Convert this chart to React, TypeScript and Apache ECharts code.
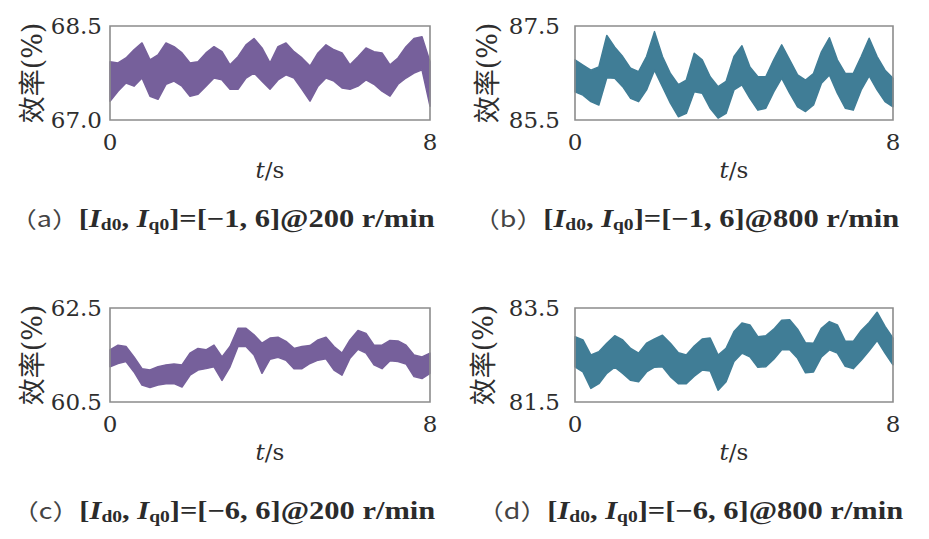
import React, { useEffect, useRef } from "react";
import * as echarts from "echarts";

// time samples (s)
const T = [0, 0.2, 0.4, 0.6, 0.8, 1.0, 1.2, 1.4, 1.6, 1.8, 2.0, 2.2, 2.4, 2.6, 2.8, 3.0, 3.2, 3.4, 3.6, 3.8, 4.0,
  4.2, 4.4, 4.6, 4.8, 5.0, 5.2, 5.4, 5.6, 5.8, 6.0, 6.2, 6.4, 6.6, 6.8, 7.0, 7.2, 7.4, 7.6, 7.8, 8.0];

// (a) [-1, 6] @ 200 r/min : upper / lower envelope of efficiency (%)
const aUpper = [67.93, 67.91, 67.99, 68.12, 68.23, 67.96, 68.04, 68.23, 68.17, 68.07, 67.91, 67.93, 68.07, 68.17, 68.09, 67.88, 68.01, 68.20, 68.30, 68.15, 67.91,
  68.17, 68.23, 68.09, 67.99, 67.86, 68.07, 68.20, 68.12, 68.07, 67.88, 68.01, 68.15, 68.09, 68.07, 67.88, 67.99, 68.17, 68.30, 68.33, 67.93];
const aLower = [67.30, 67.46, 67.59, 67.54, 67.67, 67.38, 67.33, 67.57, 67.62, 67.54, 67.38, 67.41, 67.54, 67.67, 67.64, 67.49, 67.49, 67.67, 67.75, 67.62, 67.49,
  67.64, 67.72, 67.67, 67.49, 67.30, 67.54, 67.67, 67.62, 67.51, 67.49, 67.54, 67.64, 67.57, 67.46, 67.38, 67.57, 67.67, 67.75, 67.80, 67.22];

// (b) [-1, 6] @ 800 r/min
const bUpper = [86.78, 86.67, 86.56, 86.63, 87.30, 87.05, 86.85, 86.60, 86.53, 86.85, 87.38, 86.85, 86.49, 86.25, 86.35, 86.92, 86.78, 86.42, 86.21, 86.32, 86.85,
  87.08, 86.63, 86.42, 86.42, 86.78, 87.10, 86.78, 86.46, 86.35, 86.49, 86.95, 87.25, 86.78, 86.49, 86.49, 86.85, 87.24, 86.85, 86.56, 86.39];
const bLower = [86.10, 86.03, 85.89, 85.82, 86.40, 86.39, 86.21, 85.96, 85.89, 86.14, 86.56, 86.21, 85.86, 85.57, 85.64, 86.10, 86.07, 85.75, 85.54, 85.64, 86.14,
  86.25, 85.96, 85.71, 85.75, 86.10, 86.39, 86.07, 85.78, 85.68, 85.82, 86.28, 86.46, 86.07, 85.75, 85.71, 86.14, 86.44, 86.14, 85.89, 85.78];

// (c) [-6, 6] @ 200 r/min
const cUpper = [61.61, 61.71, 61.68, 61.46, 61.21, 61.18, 61.25, 61.29, 61.31, 61.29, 61.54, 61.64, 61.61, 61.71, 61.46, 61.68, 62.07, 62.07, 61.93, 61.75, 61.86,
  61.88, 61.79, 61.64, 61.68, 61.70, 61.82, 61.88, 61.68, 61.54, 61.82, 62.02, 61.96, 61.71, 61.71, 61.81, 61.80, 61.71, 61.50, 61.46, 61.54];
const cLower = [61.25, 61.32, 61.36, 61.14, 60.86, 60.81, 60.86, 60.89, 60.89, 60.82, 61.07, 61.18, 61.21, 61.25, 60.96, 61.25, 61.68, 61.68, 61.50, 61.11, 61.41,
  61.45, 61.39, 61.21, 61.21, 61.32, 61.39, 61.42, 61.18, 61.07, 61.43, 61.62, 61.54, 61.29, 61.21, 61.38, 61.36, 61.31, 61.04, 61.00, 61.11];

// (d) [-6, 6] @ 800 r/min
const dUpper = [82.89, 82.82, 82.50, 82.57, 82.75, 82.91, 82.82, 82.64, 82.54, 82.75, 82.84, 82.92, 82.75, 82.55, 82.50, 82.69, 82.84, 82.86, 82.50, 82.64, 83.00,
  83.18, 83.14, 82.89, 82.91, 83.05, 83.24, 83.25, 83.05, 82.76, 82.75, 83.07, 83.21, 83.14, 82.79, 82.79, 83.02, 83.19, 83.41, 83.11, 82.86];
const dLower = [82.25, 82.14, 81.79, 81.89, 82.11, 82.24, 82.11, 81.96, 81.93, 82.14, 82.24, 82.25, 82.04, 81.89, 81.89, 82.05, 82.18, 82.16, 81.75, 81.93, 82.36,
  82.54, 82.46, 82.24, 82.25, 82.41, 82.61, 82.61, 82.43, 82.12, 82.14, 82.46, 82.61, 82.54, 82.26, 82.21, 82.39, 82.59, 82.81, 82.54, 82.29];

// axis ranges (min, max shown as tick labels)
const yRanges = [[67.0, 68.5], [85.5, 87.5], [60.5, 62.5], [81.5, 83.5]];
const xTicks = [0, 8];

const captions = [
  { tag: "a", id: "−1", speed: "200" },
  { tag: "b", id: "−1", speed: "800" },
  { tag: "c", id: "−6", speed: "200" },
  { tag: "d", id: "−6", speed: "800" },
];

const PURPLE = "#76609b";
const BLUE = "#407d96";

export default function App() {
  const ref = useRef<HTMLDivElement>(null);
  useEffect(() => {
    if (!ref.current) return;
    const chart = echarts.init(ref.current, null, { renderer: "svg" });
    const SERIF = "Liberation Serif";
    const WIDE = "DejaVu Serif";
    const panels = [
      { left: 110, top: 26, width: 320, height: 94, upper: aUpper, lower: aLower, color: PURPLE, labelMargin: 8, nameGap: 64 },
      { left: 575, top: 26, width: 318, height: 94, upper: bUpper, lower: bLower, color: BLUE, labelMargin: 15, nameGap: 74 },
      { left: 110, top: 308, width: 320, height: 94, upper: cUpper, lower: cLower, color: PURPLE, labelMargin: 8, nameGap: 64 },
      { left: 575, top: 308, width: 318, height: 94, upper: dUpper, lower: dLower, color: BLUE, labelMargin: 15, nameGap: 78 },
    ];
    const grid = panels.map((p) => ({
      left: p.left, top: p.top, width: p.width, height: p.height,
    }));
    const xAxis = panels.map((p, i) => ({
      type: "value", gridIndex: i, min: xTicks[0], max: xTicks[1], interval: xTicks[1] - xTicks[0],
      axisLine: { show: false }, axisTick: { show: false }, splitLine: { show: false },
      axisLabel: { show: true, color: "#2e2e2e", fontFamily: WIDE, fontSize: 23, margin: 10 },
      name: "{i|t}/s", nameLocation: "middle", nameGap: 38,
      nameTextStyle: {
        color: "#2e2e2e", fontFamily: WIDE, fontSize: 23,
        rich: { i: { fontStyle: "italic", fontFamily: WIDE, fontSize: 23, color: "#2e2e2e" } },
      },
    }));
    const yAxis = panels.map((p, i) => ({
      type: "value", gridIndex: i, min: yRanges[i][0], max: yRanges[i][1],
      axisLine: { show: false }, axisTick: { show: false }, splitLine: { show: false },
      axisLabel: {
        show: true, customValues: yRanges[i], color: "#2e2e2e", fontFamily: WIDE, fontSize: 23,
        margin: p.labelMargin, formatter: (v: number) => v.toFixed(1),
      },
      name: "效率(%)", nameLocation: "middle", nameGap: p.nameGap, nameRotate: 90,
      nameTextStyle: { color: "#2e2e2e", fontFamily: "DejaVu Serif, Noto Sans CJK SC", fontSize: 27 },
    }));
    const series: any[] = panels.map((p, i) => ({
      type: "custom", xAxisIndex: i, yAxisIndex: i, silent: true, clip: false,
      data: T.map((t, k) => [t, p.lower[k], p.upper[k]]),
      renderItem: (params: any, api: any) => {
        if (params.dataIndex !== 0) return null;
        const up = T.map((t, k) => api.coord([t, p.upper[k]]));
        const lo = T.map((t, k) => api.coord([t, p.lower[k]])).reverse();
        const cs = params.coordSys;
        return {
          type: "group",
          children: [
            {
              type: "polygon",
              shape: { points: up.concat(lo) },
              style: { fill: p.color, stroke: p.color, lineWidth: 1.5, lineJoin: "round" },
            },
            {
              type: "rect",
              shape: { x: cs.x, y: cs.y, width: cs.width, height: cs.height },
              style: { fill: "none", stroke: "#8c8c8c", lineWidth: 1.6 },
            },
          ],
        };
      },
    }));
    const capPos = [[10, 218], [473, 218], [12, 510], [477, 510]];
    const graphic = captions.map((c, i) => ({
      type: "text", x: capPos[i][0], y: capPos[i][1], scaleX: 1.22,
      style: {
        text: `{p|（${c.tag}）}{n|[}{i|I}{s|d0}{n|, }{i|I}{s|q0}{n|]=[${c.id}, 6]@${c.speed} r/min}`,
        verticalAlign: "middle", align: "left",
        rich: {
          p: { fontFamily: "Noto Sans CJK SC", fontSize: 22, fill: "#444", lineHeight: 30 },
          n: { fontFamily: SERIF, fontSize: 25, fontWeight: "bold", fill: "#2b2b2b", lineHeight: 30 },
          i: { fontFamily: SERIF, fontSize: 25, fontWeight: "bold", fontStyle: "italic", fill: "#2b2b2b", lineHeight: 30 },
          s: { fontFamily: SERIF, fontSize: 16, fontWeight: "bold", fill: "#2b2b2b", lineHeight: 30, verticalAlign: "bottom", padding: [12, 0, 0, 0] },
        },
      },
    }));
    chart.setOption({
      animation: false,
      backgroundColor: "#ffffff",
      grid, xAxis, yAxis, series, graphic,
    });
    return () => chart.dispose();
  }, []);
  return (
    <div
      ref={ref}
      style={{ position: "absolute", left: 0, top: 0, width: 929, height: 539 }}
    />
  );
}
